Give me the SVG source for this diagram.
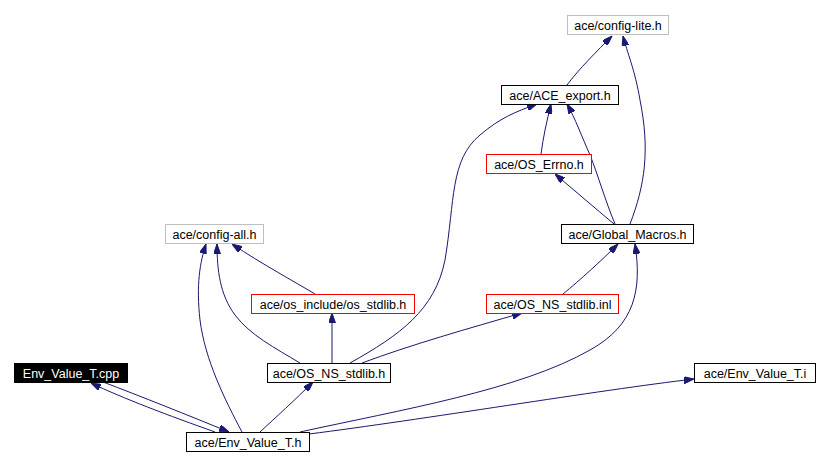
<svg xmlns="http://www.w3.org/2000/svg" width="828" height="465" viewBox="0 0 828 465">
<style>
.n rect{fill:#fff;stroke:#000;stroke-width:1}
.n.g rect{stroke:#bfbfbf}
.n.r rect{stroke:#ff0000}
.n.b rect{fill:#000}
.n text{font-family:"Liberation Sans",Arial,sans-serif;font-size:12.5px;text-anchor:middle;fill:#000}
.n.b text{fill:#fff}
#edges path{fill:none;stroke:#191970;stroke-width:1;marker-end:url(#ah)}
</style>
<defs>
<marker id="ah" viewBox="0 0 10 7" refX="10" refY="3.5" markerWidth="10" markerHeight="7" markerUnits="userSpaceOnUse" orient="auto">
<path d="M0,0 L10,3.5 L0,7 z" fill="#191970" stroke="#191970"/>
</marker>
</defs>
<rect width="828" height="465" fill="#fff"/>
<g id="edges">
<path d="M567,85 C578,70 598,50 612,36"/>
<path d="M630,224 C645,185 650,150 640,100 C635,70 627,52 623,36"/>
<path d="M541,154 C543,138 547,120 551,104"/>
<path d="M615,224 C605,200 598,175 590,155 C582,137 575,118 567,104"/>
<path d="M350,363 C400,335 435,310 445,260 C455,200 450,160 480,135 C500,118 515,112 537,104"/>
<path d="M614,224 C595,208 575,191 555,174"/>
<path d="M315,294 C295,282 262,264 232,244"/>
<path d="M300,363 C275,348 250,335 235,315 C220,295 217,270 217,244"/>
<path d="M242,432 C225,400 205,360 200,320 C196,285 200,262 206,244"/>
<path d="M332,363 L332,313"/>
<path d="M362,363 C410,345 470,328 522,313"/>
<path d="M563,294 C580,280 600,262 618,244"/>
<path d="M300,432 C400,410 520,390 590,350 C635,325 642,290 635,244"/>
<path d="M260,432 C275,418 295,400 313,382"/>
<path d="M309,434 C420,420 600,390 694,379"/>
<path d="M103,382 C140,396 190,416 229,432"/>
<path d="M215,432 C170,416 122,398 91,383"/>
</g>
<g id="config-lite" class="n g"><rect x="567.5" y="15.5" width="101" height="19"/><text x="618" y="29.5">ace/config-lite.h</text></g>
<g id="ACE_export" class="n"><rect x="501.5" y="85.5" width="117" height="19"/><text x="560" y="99.5">ace/ACE_export.h</text></g>
<g id="OS_Errno" class="n r"><rect x="486.5" y="154.5" width="105" height="19"/><text x="539" y="168.5">ace/OS_Errno.h</text></g>
<g id="Global_Macros" class="n"><rect x="561.5" y="224.5" width="132" height="19"/><text x="627.5" y="238.5">ace/Global_Macros.h</text></g>
<g id="config-all" class="n g"><rect x="165.5" y="224.5" width="98" height="19"/><text x="214.5" y="238.5">ace/config-all.h</text></g>
<g id="os_stdlib" class="n r"><rect x="251.5" y="294.5" width="163" height="19"/><text x="333" y="308.5">ace/os_include/os_stdlib.h</text></g>
<g id="OS_NS_stdlib_inl" class="n r"><rect x="486.5" y="294.5" width="132" height="19"/><text x="552.5" y="308.5">ace/OS_NS_stdlib.inl</text></g>
<g id="OS_NS_stdlib_h" class="n"><rect x="267.5" y="363.5" width="123" height="19"/><text x="329" y="377.5">ace/OS_NS_stdlib.h</text></g>
<g id="Env_Value_T_cpp" class="n b"><rect x="14.5" y="363.5" width="113" height="19"/><text x="71" y="377.5">Env_Value_T.cpp</text></g>
<g id="Env_Value_T_h" class="n"><rect x="186.5" y="432.5" width="123" height="19"/><text x="248" y="446.5">ace/Env_Value_T.h</text></g>
<g id="Env_Value_T_i" class="n"><rect x="694.5" y="363.5" width="121" height="19"/><text x="755" y="377.5">ace/Env_Value_T.i</text></g>
</svg>
